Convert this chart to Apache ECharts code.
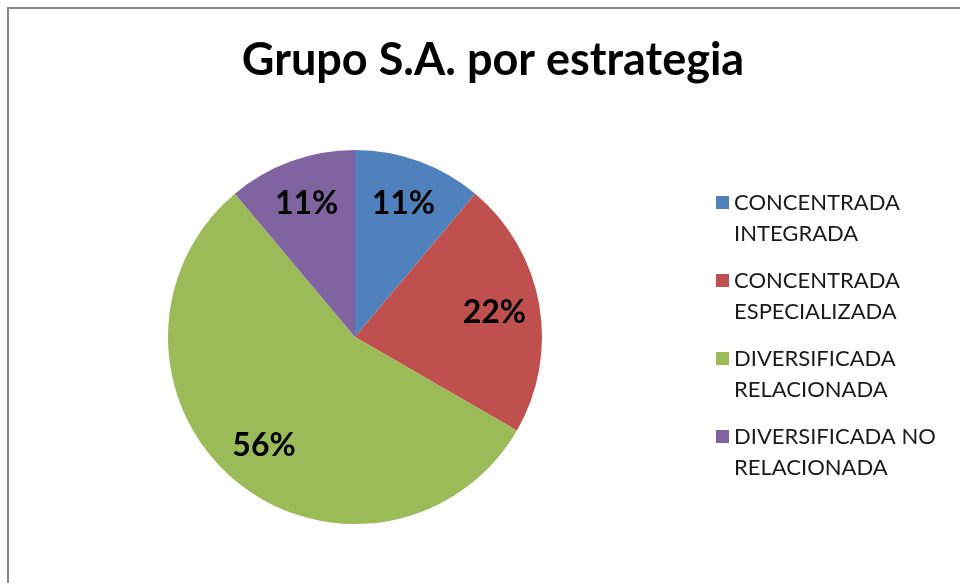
<!DOCTYPE html>
<html>
<head>
<meta charset="utf-8">
<script src="https://cdn.jsdelivr.net/npm/echarts@6/dist/echarts.min.js"></script>
<style>
  html, body { margin: 0; padding: 0; background: #fff; }
  #main { width: 960px; height: 583px; }
</style>
</head>
<body>
<div id="main"></div>
<script>
// datos del gráfico
var categorias = ['CONCENTRADA\nINTEGRADA', 'CONCENTRADA\nESPECIALIZADA', 'DIVERSIFICADA\nRELACIONADA', 'DIVERSIFICADA NO\nRELACIONADA'];
var valores = [1, 2, 5, 1];
var colores = ['#4F81BD', '#C0504D', '#9BBB59', '#8064A2'];

var datos = categorias.map(function (c, i) {
  return { name: c, value: valores[i] };
});

var myChart = echarts.init(document.getElementById('main'));
var option = {
  animation: false,
  color: colores,
  title: {
    text: 'Grupo S.A. por estrategia',
    left: 488,
    textAlign: 'center',
    top: 33,
    textStyle: { fontFamily: 'Lato', fontWeight: 'bold', fontSize: 45, color: '#000' }
  },
  legend: {
    orient: 'vertical',
    left: 711,
    top: 182,
    itemGap: 16,
    itemWidth: 13,
    itemHeight: 44,
    // cuadrado alineado con la primera línea del texto
    icon: 'path://M0,0L13,0L13,13L0,13Z M0,44L0.01,44',
    data: categorias,
    textStyle: { fontFamily: 'Lato', fontSize: 22, color: '#1a1a1a', lineHeight: 31 }
  },
  graphic: [{
    type: 'rect',
    shape: { x: 8, y: 8, width: 1000, height: 700 },
    style: { fill: 'none', stroke: '#888', lineWidth: 2 },
    silent: true
  }],
  series: [
    {
      type: 'pie',
      center: [355, 337],
      radius: [0, 187],
      startAngle: 90,
      clockwise: true,
      label: { show: false },
      labelLine: { show: false },
      itemStyle: { borderWidth: 0 },
      data: datos
    },
    {
      // serie transparente sólo para colocar las etiquetas
      type: 'pie',
      center: [355, 337],
      radius: [90, 187],
      startAngle: 90,
      clockwise: true,
      silent: true,
      legendHoverLink: false,
      itemStyle: { color: 'rgba(0,0,0,0)' },
      label: {
        show: true,
        position: 'inside',
        formatter: function (p) { return Math.round(p.percent) + '%'; },
        fontFamily: 'Lato',
        fontWeight: 'bold',
        fontSize: 32,
        color: '#000'
      },
      labelLine: { show: false },
      data: datos
    }
  ]
};
myChart.setOption(option);
</script>
</body>
</html>
